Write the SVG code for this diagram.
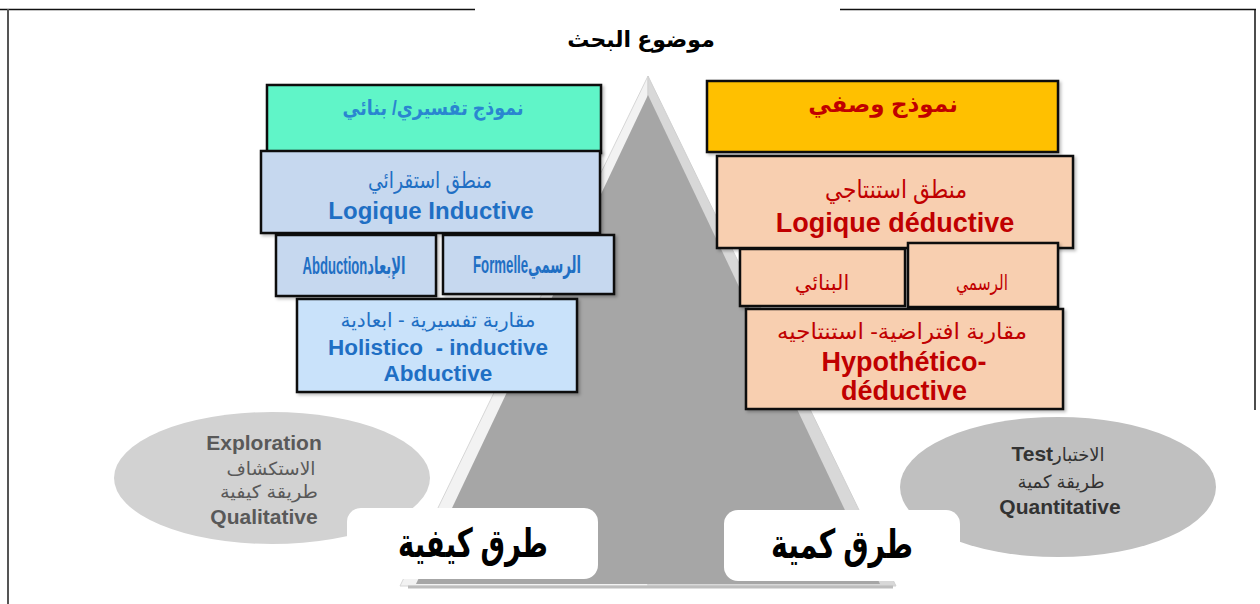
<svg xmlns="http://www.w3.org/2000/svg" width="1260" height="604" viewBox="0 0 1260 604">
<defs>
<linearGradient id="topg" x1="0" x2="1" y1="0" y2="0">
<stop offset="0" stop-color="#d0d0d0"/><stop offset="0.5" stop-color="#a8a8a8"/><stop offset="1" stop-color="#d0d0d0"/>
</linearGradient>
<filter id="sh" x="-5%" y="-5%" width="115%" height="120%">
<feDropShadow dx="2" dy="2" stdDeviation="1.5" flood-color="#000" flood-opacity="0.25"/>
</filter>
</defs>
<style>
.t{font-family:"Liberation Sans","DejaVu Sans",sans-serif;text-anchor:middle}
.b{font-weight:bold}
.box{stroke:#111;stroke-width:2.5}
.blue{fill:#1f6fc4}
.red{fill:#c00000}
.gl{fill:#595959}
.gr{fill:#333333}
</style>
<rect x="0" y="0" width="1260" height="604" fill="#ffffff"/>
<g id="frame">
<line x1="0" y1="9.5" x2="475" y2="9.5" stroke="#111" stroke-width="1.5"/>
<line x1="475" y1="9.5" x2="840" y2="9.5" stroke="url(#topg)" stroke-width="1.5"/>
<line x1="840" y1="9.5" x2="1256" y2="9.5" stroke="#111" stroke-width="1.5"/>
<line x1="8" y1="9" x2="8" y2="604" stroke="#555" stroke-width="2"/>
<line x1="1255" y1="9" x2="1255" y2="410" stroke="#111" stroke-width="1.5"/>
</g>
<g id="title"><text class="t b" x="641" y="47" font-size="22" fill="#000">موضوع البحث</text></g>
<g id="pyramid">
<polygon points="648,76 400,586 648,586" fill="#f2f2f2" stroke="#d6d6d6" stroke-width="1"/>
<polygon points="648,76 896,586 648,586" fill="#d8d8d8" stroke="#d0d0d0" stroke-width="1"/>
<polygon points="648,95 416,584 880,584" fill="#a6a6a6"/>
<line x1="408" y1="587" x2="893" y2="587" stroke="#bdbdbd" stroke-width="3"/>
</g>
<g id="exploration">
<ellipse cx="272" cy="478" rx="158" ry="66" fill="#d2d2d2"/>
<text class="t b gl" x="264" y="450" font-size="21">Exploration</text>
<text class="t gl" x="271" y="475" font-size="18" textLength="89" lengthAdjust="spacingAndGlyphs">الاستكشاف</text>
<text class="t gl" x="269" y="498" font-size="18" textLength="98" lengthAdjust="spacingAndGlyphs">طريقة كيفية</text>
<text class="t b gl" x="264" y="524" font-size="21">Qualitative</text>
</g>
<g id="test">
<ellipse cx="1058" cy="487" rx="158" ry="70" fill="#c0c0c0"/>
<text class="t gr" x="1058" y="461" font-size="18" direction="ltr"><tspan font-weight="bold" font-size="21">Test</tspan>الاختبار</text>
<text class="t gr" x="1061" y="488" font-size="18" textLength="87" lengthAdjust="spacingAndGlyphs">طريقة كمية</text>
<text class="t b gr" x="1060" y="514" font-size="21">Quantitative</text>
</g>
<g id="label-qual">
<rect x="347" y="508" width="251" height="71" rx="14" fill="#ffffff"/>
<text class="t b" x="473" y="557" font-size="40" fill="#000" textLength="150" lengthAdjust="spacingAndGlyphs">طرق كيفية</text>
</g>
<g id="label-quant">
<rect x="724" y="510" width="236" height="71" rx="14" fill="#ffffff"/>
<text class="t b" x="842" y="558" font-size="40" fill="#000" textLength="142" lengthAdjust="spacingAndGlyphs">طرق كمية</text>
</g>
<g id="model-interp">
<rect class="box" x="267" y="85" width="334" height="68" fill="#60f5c8" filter="url(#sh)"/>
<text class="t b" x="433" y="115" font-size="21" fill="#2a86d0" textLength="181" lengthAdjust="spacingAndGlyphs">نموذج تفسيري/ بنائي</text>
</g>
<g id="logic-ind">
<rect class="box" x="261" y="151" width="339" height="82" fill="#c6d8ef" filter="url(#sh)"/>
<text class="t blue" x="430" y="188" font-size="23" textLength="124" lengthAdjust="spacingAndGlyphs">منطق استقرائي</text>
<text class="t b blue" x="431" y="219" font-size="24">Logique Inductive</text>
</g>
<g id="abduction">
<rect class="box" x="276" y="235" width="160" height="61" fill="#c6d8ef" filter="url(#sh)"/>
<text class="t b blue" x="354" y="274" font-size="24" direction="ltr" textLength="103" lengthAdjust="spacingAndGlyphs">Abductionالإبعاد</text>
</g>
<g id="formelle">
<rect class="box" x="443" y="235" width="171" height="59" fill="#c6d8ef" filter="url(#sh)"/>
<text class="t b blue" x="527" y="273" font-size="24" direction="ltr" textLength="108" lengthAdjust="spacingAndGlyphs">Formelleالرسمي</text>
</g>
<g id="approach-ind">
<rect class="box" x="297" y="299" width="280" height="93" fill="#c9e2fa" filter="url(#sh)"/>
<text class="t blue" x="438" y="327" font-size="20" textLength="195" lengthAdjust="spacingAndGlyphs">مقاربة تفسيرية - ابعادية</text>
<text class="t b blue" x="438" y="355" font-size="22.5" xml:space="preserve">Holistico  - inductive</text>
<text class="t b blue" x="438" y="381" font-size="22.5">Abductive</text>
</g>
<g id="model-desc">
<rect class="box" x="707" y="81" width="351" height="71" fill="#ffc000" filter="url(#sh)"/>
<text class="t b red" x="883" y="112" font-size="23">نموذج وصفي</text>
</g>
<g id="logic-ded">
<rect class="box" x="717" y="156" width="356" height="92" fill="#f8cfb0" filter="url(#sh)"/>
<text class="t red" x="896" y="198" font-size="25" textLength="142" lengthAdjust="spacingAndGlyphs">منطق استنتاجي</text>
<text class="t b red" x="895" y="232" font-size="27">Logique déductive</text>
</g>
<g id="binai">
<rect class="box" x="740" y="249" width="165" height="57" fill="#f8cfb0" filter="url(#sh)"/>
<text class="t red" x="822" y="290" font-size="21">البنائي</text>
</g>
<g id="rasmi">
<rect class="box" x="908" y="243" width="150" height="64" fill="#f8cfb0" filter="url(#sh)"/>
<text class="t red" x="982" y="290" font-size="21" textLength="52" lengthAdjust="spacingAndGlyphs">الرسمي</text>
</g>
<g id="approach-ded">
<rect class="box" x="746" y="309" width="317" height="100" fill="#f8cfb0" filter="url(#sh)"/>
<text class="t red" x="902" y="339" font-size="22" textLength="250" lengthAdjust="spacingAndGlyphs">مقاربة افتراضية- استنتاجيه</text>
<text class="t b red" x="904" y="371" font-size="27">Hypothético-</text>
<text class="t b red" x="904" y="400" font-size="27">déductive</text>
</g>
<g id="connectors"></g>
</svg>
